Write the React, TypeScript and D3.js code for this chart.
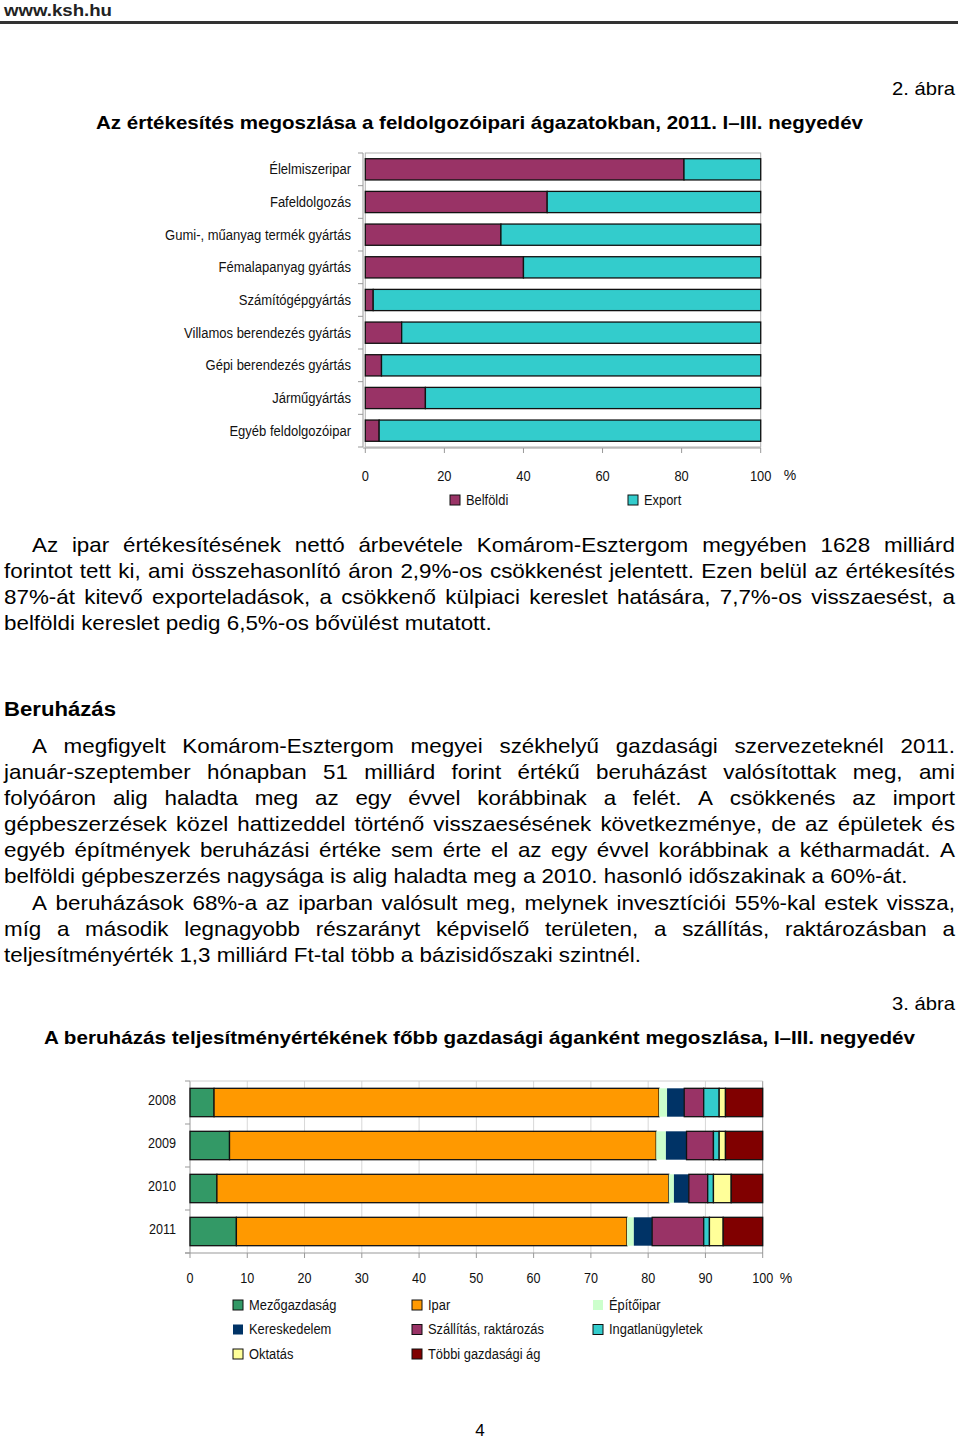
import React, { useEffect, useRef } from 'react';
import * as d3 from 'd3';

const FONT = "'Liberation Sans', Arial, sans-serif";

// 2. ábra – feldolgozóipari ágazatok
const industries = [
  'Élelmiszeripar',
  'Fafeldolgozás',
  'Gumi-, műanyag termék gyártás',
  'Fémalapanyag gyártás',
  'Számítógépgyártás',
  'Villamos berendezés gyártás',
  'Gépi berendezés gyártás',
  'Járműgyártás',
  'Egyéb feldolgozóipar',
];
const belfoldi = [80.6, 46.0, 34.3, 40.0, 2.0, 9.2, 4.1, 15.2, 3.5];
const exportVals = [19.4, 54.0, 65.7, 60.0, 98.0, 90.8, 95.9, 84.8, 96.5];
const ticks1 = [0, 20, 40, 60, 80, 100];

// 3. ábra – beruházás ágak szerint
const years = ['2008', '2009', '2010', '2011'];
const sectorNames = [
  'Mezőgazdaság', 'Ipar', 'Építőipar', 'Kereskedelem',
  'Szállítás, raktározás', 'Ingatlanügyletek', 'Oktatás', 'Többi gazdasági ág',
];
const mezogazdasag = [4.2, 6.9, 4.7, 8.1];
const ipar = [77.7, 74.5, 78.9, 68.2];
const epitoipar = [1.4, 1.7, 0.9, 1.2];
const kereskedelem = [3.0, 3.6, 2.6, 3.2];
const szallitas = [3.4, 4.7, 3.3, 9.0];
const ingatlan = [2.7, 1.0, 1.0, 1.0];
const oktatas = [1.1, 1.1, 3.1, 2.4];
const tobbi = [6.5, 6.5, 5.5, 6.9];
const ticks2 = [0, 10, 20, 30, 40, 50, 60, 70, 80, 90, 100];

const sectorColors = ['#339966', '#FF9900', '#CCFFCC', '#003366', '#993366', '#33CCCC', '#FFFF99', '#800000'];
const sectorBorder = [true, true, false, false, true, true, true, true];

const para1 = [
  { t: 'Az ipar értékesítésének nettó árbevétele Komárom-Esztergom megyében 1628 milliárd', indent: true, just: true },
  { t: 'forintot tett ki, ami összehasonlító áron 2,9%-os csökkenést jelentett. Ezen belül az értékesítés', indent: false, just: true },
  { t: '87%-át kitevő exporteladások, a csökkenő külpiaci kereslet hatására, 7,7%-os visszaesést, a', indent: false, just: true },
  { t: 'belföldi kereslet pedig 6,5%-os bővülést mutatott.', indent: false, just: false },
];
const para2 = [
  { t: 'A megfigyelt Komárom-Esztergom megyei székhelyű gazdasági szervezeteknél 2011.', indent: true, just: true },
  { t: 'január-szeptember hónapban 51 milliárd forint értékű beruházást valósítottak meg, ami', indent: false, just: true },
  { t: 'folyóáron alig haladta meg az egy évvel korábbinak a felét. A csökkenés az import', indent: false, just: true },
  { t: 'gépbeszerzések közel hattizeddel történő visszaesésének következménye, de az épületek és', indent: false, just: true },
  { t: 'egyéb építmények beruházási értéke sem érte el az egy évvel korábbinak a kétharmadát. A', indent: false, just: true },
  { t: 'belföldi gépbeszerzés nagysága is alig haladta meg a 2010. hasonló időszakinak a 60%-át.', indent: false, just: false },
  { t: 'A beruházások 68%-a az iparban valósult meg, melynek invesztíciói 55%-kal estek vissza,', indent: true, just: true },
  { t: 'míg a második legnagyobb részarányt képviselő területen, a szállítás, raktározásban a', indent: false, just: true },
  { t: 'teljesítményérték 1,3 milliárd Ft-tal több a bázisidőszaki szintnél.', indent: false, just: false },
];

const BODY_SIZE = 20;
const SX = 1.12; // the pdf text is drawn a bit wider than the font
const LEFT = 4, RIGHT = 955, INDENT = 32;

let ctx: CanvasRenderingContext2D | null = null;
function measure(s: string, size: number, weight = 'normal') {
  if (!ctx) ctx = document.createElement('canvas').getContext('2d');
  ctx!.font = `${weight} ${size}px 'Liberation Sans', Arial, sans-serif`;
  return ctx!.measureText(s).width;
}

function Paragraph({ lines, y0 }: { lines: { t: string; indent: boolean; just: boolean }[]; y0: number }) {
  return (
    <g fontFamily={FONT} fontSize={BODY_SIZE} fill="#000" transform={`scale(${SX},1)`}>
      {lines.map((ln, i) => {
        const x0 = ln.indent ? INDENT : LEFT;
        const y = y0 + i * 26.1;
        if (!ln.just) return <text key={i} x={x0 / SX} y={y}>{ln.t}</text>;
        const words = ln.t.split(' ');
        const widths = words.map(w => measure(w, BODY_SIZE) * SX);
        const total = d3.sum(widths);
        const gap = (RIGHT - x0 - total) / (words.length - 1);
        let x = x0;
        return (
          <text key={i} y={y}>
            {words.map((w, j) => {
              const el = <tspan key={j} x={x / SX}>{w}</tspan>;
              x += widths[j] + gap;
              return el;
            })}
          </text>
        );
      })}
    </g>
  );
}

// squeeze chart texts a little, they are a narrow face in the original
function narrow(sel: any, size: number, f: number) {
  sel.attr('font-family', FONT).attr('font-size', size).attr('fill', '#111')
    .attr('textLength', (d: any, i: number, n: any) => measure(n[i].textContent, size) * f)
    .attr('lengthAdjust', 'spacingAndGlyphs');
}

export default function App() {
  const ref = useRef<SVGSVGElement>(null);

  useEffect(() => {
    const svg = d3.select(ref.current);
    svg.selectAll('.chart').remove();

    // ---------- chart 1 ----------
    const c1 = svg.append('g').attr('class', 'chart');
    const x1 = d3.scaleLinear().domain([0, 100]).range([365.3, 760.7]);
    const y1 = d3.scaleBand().domain(industries).range([153, 447]).paddingInner(0.35).paddingOuter(0.175);
    const yb1 = d3.scaleBand().domain(industries).range([153, 447]);

    c1.append('rect').attr('x', 365.3).attr('y', 153).attr('width', 395.4).attr('height', 294)
      .attr('fill', 'none').attr('stroke', '#b0b0b0').attr('stroke-width', 1);

    const rows1 = industries.map((c, i) => ({ c, b: belfoldi[i], e: exportVals[i] }));
    c1.selectAll('.bel').data(rows1).join('rect').attr('class', 'bel')
      .attr('x', x1(0)).attr('y', d => y1(d.c)!)
      .attr('width', d => x1(d.b) - x1(0)).attr('height', y1.bandwidth())
      .attr('fill', '#993366').attr('stroke', '#111').attr('stroke-width', 1.3);
    c1.selectAll('.exp').data(rows1).join('rect').attr('class', 'exp')
      .attr('x', d => x1(d.b)).attr('y', d => y1(d.c)!)
      .attr('width', d => x1(d.b + d.e) - x1(d.b)).attr('height', y1.bandwidth())
      .attr('fill', '#33CCCC').attr('stroke', '#111').attr('stroke-width', 1.3);

    // category axis
    const ax1 = c1.append('g').attr('transform', 'translate(363,0)');
    ax1.append('line').attr('y1', 153).attr('y2', 447).attr('stroke', '#999');
    d3.range(industries.length + 1).forEach(i => {
      const yy = 153 + i * yb1.step();
      ax1.append('line').attr('x1', -5).attr('x2', 0).attr('y1', yy).attr('y2', yy).attr('stroke', '#999');
    });
    c1.selectAll('.cat').data(industries).join('text').attr('class', 'cat')
      .attr('x', 351).attr('y', d => yb1(d)! + yb1.bandwidth() / 2)
      .attr('dy', '0.35em').attr('text-anchor', 'end').text(d => d)
      .call(narrow, 14, 0.93);

    // value axis
    const ax1b = c1.append('g').attr('transform', 'translate(0,448)');
    ax1b.append('line').attr('x1', 363).attr('x2', 761).attr('stroke', '#999');
    ticks1.forEach(t => {
      ax1b.append('line').attr('x1', x1(t)).attr('x2', x1(t)).attr('y1', 0).attr('y2', 5).attr('stroke', '#999');
    });
    c1.selectAll('.t1').data(ticks1).join('text').attr('class', 't1')
      .attr('x', d => x1(d)).attr('y', 476).attr('dy', '0.35em').attr('text-anchor', 'middle').text(d => d)
      .call(narrow, 14, 0.92);
    c1.append('text').attr('x', 790).attr('y', 475).attr('dy', '0.35em').attr('text-anchor', 'middle')
      .attr('font-family', FONT).attr('font-size', 14).attr('fill', '#111').text('%');

    const leg1 = [
      { n: 'Belföldi', c: '#993366', x: 450 },
      { n: 'Export', c: '#33CCCC', x: 628 },
    ];
    leg1.forEach(l => {
      c1.append('rect').attr('x', l.x).attr('y', 495).attr('width', 10).attr('height', 10)
        .attr('fill', l.c).attr('stroke', '#111').attr('stroke-width', 1);
      c1.append('text').attr('x', l.x + 16).attr('y', 500).attr('dy', '0.35em').text(l.n)
        .call(narrow, 14, 0.92);
    });

    // ---------- chart 2 ----------
    const c2 = svg.append('g').attr('class', 'chart');
    const x2 = d3.scaleLinear().domain([0, 100]).range([190, 762.7]);
    const y2 = d3.scaleBand().domain(years).range([1081, 1253]).paddingInner(0.34).paddingOuter(0.17);
    const yb2 = d3.scaleBand().domain(years).range([1081, 1253]);

    ticks2.forEach(t => {
      c2.append('line').attr('x1', x2(t)).attr('x2', x2(t)).attr('y1', 1081).attr('y2', 1253)
        .attr('stroke', t === 0 || t === 100 ? '#999' : '#d8d8d8');
    });
    c2.append('line').attr('x1', 190).attr('x2', 762.7).attr('y1', 1081).attr('y2', 1081).attr('stroke', '#d0d0d0');

    const seriesVals = [mezogazdasag, ipar, epitoipar, kereskedelem, szallitas, ingatlan, oktatas, tobbi];
    const table = years.map((yr, i) => {
      const row: any = { year: yr };
      sectorNames.forEach((s, k) => { row[s] = seriesVals[k][i]; });
      return row;
    });
    const stacked = d3.stack<any>().keys(sectorNames)(table);

    c2.selectAll('.layer').data(stacked).join('g').attr('class', 'layer')
      .attr('fill', (d, k) => sectorColors[k])
      .attr('stroke', (d, k) => sectorBorder[k] ? '#111' : 'none')
      .attr('stroke-width', 1.3)
      .selectAll('rect').data(d => d).join('rect')
      .attr('x', d => x2(d[0])).attr('width', d => x2(d[1]) - x2(d[0]))
      .attr('y', d => y2(d.data.year)!).attr('height', y2.bandwidth());

    const ax2 = c2.append('g');
    ax2.append('line').attr('x1', 185).attr('x2', 763).attr('y1', 1253).attr('y2', 1253).attr('stroke', '#999');
    d3.range(years.length + 1).forEach(i => {
      const yy = 1081 + i * yb2.step();
      ax2.append('line').attr('x1', 185).attr('x2', 190).attr('y1', yy).attr('y2', yy).attr('stroke', '#999');
    });
    ticks2.forEach(t => {
      ax2.append('line').attr('x1', x2(t)).attr('x2', x2(t)).attr('y1', 1253).attr('y2', 1258).attr('stroke', '#999');
    });
    c2.selectAll('.yr').data(years).join('text').attr('class', 'yr')
      .attr('x', 176).attr('y', d => yb2(d)! + yb2.bandwidth() / 2 - 2).attr('dy', '0.35em')
      .attr('text-anchor', 'end').text(d => d)
      .call(narrow, 14, 0.9);
    c2.selectAll('.t2').data(ticks2).join('text').attr('class', 't2')
      .attr('x', d => x2(d)).attr('y', 1278).attr('dy', '0.35em').attr('text-anchor', 'middle').text(d => d)
      .call(narrow, 14, 0.9);
    c2.append('text').attr('x', 786).attr('y', 1278).attr('dy', '0.35em').attr('text-anchor', 'middle')
      .attr('font-family', FONT).attr('font-size', 14).attr('fill', '#111').text('%');

    const legCols = [233, 412, 593];
    const legRows = [1305, 1329.5, 1354];
    sectorNames.forEach((s, k) => {
      const lx = legCols[k % 3], ly = legRows[Math.floor(k / 3)];
      c2.append('rect').attr('x', lx).attr('y', ly - 5).attr('width', 10).attr('height', 10)
        .attr('fill', sectorColors[k]).attr('stroke', sectorBorder[k] ? '#111' : 'none').attr('stroke-width', 1);
      c2.append('text').attr('x', lx + 16).attr('y', ly).attr('dy', '0.35em').text(s)
        .call(narrow, 14, 0.92);
    });
  }, []);

  return (
    <svg ref={ref} width={960} height={1440} style={{ position: 'absolute', left: 0, top: 0, background: '#fff' }}>
      <rect width={960} height={1440} fill="#fff" />
      <text x={4} y={16} fontFamily={FONT} fontWeight="bold" fontSize={17} fill="#222"
        textLength={108} lengthAdjust="spacingAndGlyphs">www.ksh.hu</text>
      <rect x={0} y={21} width={958} height={3} fill="#333" />

      <text x={892} y={95} fontFamily={FONT} fontSize={19} textLength={63} lengthAdjust="spacingAndGlyphs">2. ábra</text>
      <text x={96} y={129} fontFamily={FONT} fontWeight="bold" fontSize={19}
        textLength={767} lengthAdjust="spacingAndGlyphs">
        Az értékesítés megoszlása a feldolgozóipari ágazatokban, 2011. I–III. negyedév
      </text>

      <Paragraph lines={para1} y0={552} />
      <text x={4} y={716} fontFamily={FONT} fontWeight="bold" fontSize={20}
        textLength={112} lengthAdjust="spacingAndGlyphs">Beruházás</text>
      <Paragraph lines={para2} y0={753} />

      <text x={892} y={1010} fontFamily={FONT} fontSize={19} textLength={63} lengthAdjust="spacingAndGlyphs">3. ábra</text>
      <text x={44} y={1044} fontFamily={FONT} fontWeight="bold" fontSize={19}
        textLength={871} lengthAdjust="spacingAndGlyphs">
        A beruházás teljesítményértékének főbb gazdasági áganként megoszlása, I–III. negyedév
      </text>

      <text x={480} y={1436} textAnchor="middle" fontFamily={FONT} fontSize={17}>4</text>
    </svg>
  );
}
